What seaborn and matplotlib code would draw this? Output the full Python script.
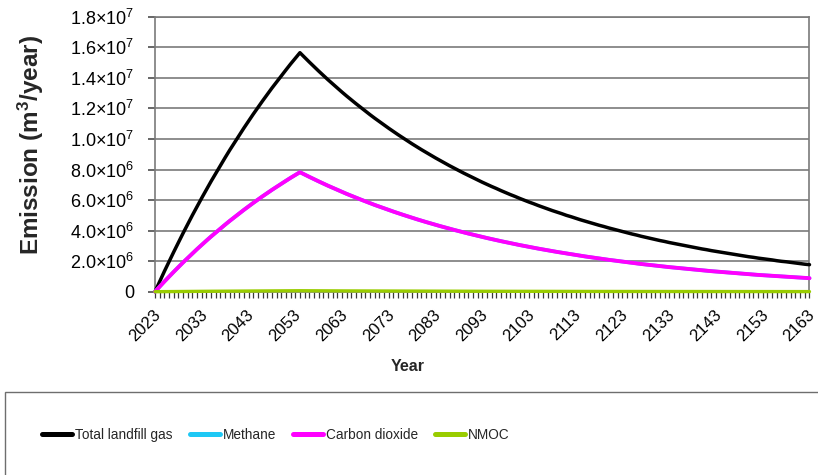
import matplotlib
matplotlib.use("Agg")
import matplotlib.pyplot as plt
import matplotlib.transforms as mtransforms
from matplotlib.lines import Line2D
from matplotlib.patches import Rectangle
from matplotlib.ticker import MultipleLocator
import numpy as np
import pandas as pd
import seaborn as sns

# ---------------------------------------------------------------- data
start_year = 2023
end_year = 2163

# Total landfill gas, million m3/year (2023 ... 2163)
total_gas_mm3 = [
    0.00, 0.67, 1.33, 1.97, 2.60, 3.22, 3.83, 4.42, 5.01, 5.58,
    6.14, 6.69, 7.23, 7.75, 8.27, 8.78, 9.28, 9.76, 10.24, 10.71,
    11.17, 11.62, 12.06, 12.49, 12.91, 13.33, 13.73, 14.13, 14.52, 14.91,
    15.28, 15.65,
    15.34, 15.04, 14.74, 14.45, 14.16, 13.88, 13.61, 13.34, 13.07,
    12.81, 12.56, 12.31, 12.07, 11.83, 11.59, 11.36, 11.14, 10.92, 10.70,
    10.49, 10.28, 10.08, 9.88, 9.68, 9.49, 9.30, 9.12, 8.94, 8.76,
    8.59, 8.42, 8.25, 8.09, 7.93, 7.77, 7.62, 7.47, 7.32, 7.17,
    7.03, 6.89, 6.76, 6.62, 6.49, 6.36, 6.24, 6.11, 5.99, 5.87,
    5.76, 5.64, 5.53, 5.42, 5.31, 5.21, 5.11, 5.00, 4.91, 4.81,
    4.71, 4.62, 4.53, 4.44, 4.35, 4.27, 4.18, 4.10, 4.02, 3.94,
    3.86, 3.78, 3.71, 3.63, 3.56, 3.49, 3.42, 3.35, 3.29, 3.22,
    3.16, 3.10, 3.04, 2.98, 2.92, 2.86, 2.80, 2.75, 2.69, 2.64,
    2.59, 2.54, 2.49, 2.44, 2.39, 2.34, 2.29, 2.25, 2.20, 2.16,
    2.12, 2.08, 2.03, 1.99, 1.96, 1.92, 1.88, 1.84, 1.80, 1.77,
]

# Carbon dioxide, million m3/year
carbon_dioxide_mm3 = [
    0.000, 0.335, 0.665, 0.985, 1.300, 1.610, 1.915, 2.210, 2.505, 2.790,
    3.070, 3.345, 3.615, 3.875, 4.135, 4.390, 4.640, 4.880, 5.120, 5.355,
    5.585, 5.810, 6.030, 6.245, 6.455, 6.665, 6.865, 7.065, 7.260, 7.455,
    7.640, 7.825,
    7.670, 7.520, 7.370, 7.225, 7.080, 6.940, 6.805, 6.670, 6.535,
    6.405, 6.280, 6.155, 6.035, 5.915, 5.795, 5.680, 5.570, 5.460, 5.350,
    5.245, 5.140, 5.040, 4.940, 4.840, 4.745, 4.650, 4.560, 4.470, 4.380,
    4.295, 4.210, 4.125, 4.045, 3.965, 3.885, 3.810, 3.735, 3.660, 3.585,
    3.515, 3.445, 3.380, 3.310, 3.245, 3.180, 3.120, 3.055, 2.995, 2.935,
    2.880, 2.820, 2.765, 2.710, 2.655, 2.605, 2.555, 2.500, 2.455, 2.405,
    2.355, 2.310, 2.265, 2.220, 2.175, 2.135, 2.090, 2.050, 2.010, 1.970,
    1.930, 1.890, 1.855, 1.815, 1.780, 1.745, 1.710, 1.675, 1.645, 1.610,
    1.580, 1.550, 1.520, 1.490, 1.460, 1.430, 1.400, 1.375, 1.345, 1.320,
    1.295, 1.270, 1.245, 1.220, 1.195, 1.170, 1.145, 1.125, 1.100, 1.080,
    1.060, 1.040, 1.015, 0.995, 0.980, 0.960, 0.940, 0.920, 0.900, 0.885,
]

# Methane makes up the same volume share as CO2, so the two series coincide
methane_mm3 = list(carbon_dioxide_mm3)

# NMOC, thousand m3/year
nmoc_km3 = [
    0, 3, 5, 8, 10, 13, 15, 18, 20, 22, 25, 27, 29, 31, 33, 35, 37, 39, 41, 43,
    45, 46, 48, 50, 52, 53, 55, 57, 58, 60, 61, 63,
    61, 60, 59, 58, 57, 56, 54, 53, 52,
    51, 50, 49, 48, 47, 46, 45, 45, 44, 43,
    42, 41, 40, 40, 39, 38, 37, 36, 36, 35,
    34, 34, 33, 32, 32, 31, 30, 30, 29, 29,
    28, 28, 27, 26, 26, 25, 25, 24, 24, 23,
    23, 23, 22, 22, 21, 21, 20, 20, 20, 19,
    19, 18, 18, 18, 17, 17, 16, 16, 16, 16,
    15, 15, 15, 14, 14, 14, 14, 13, 13, 13,
    13, 12, 12, 12, 12, 11, 11, 11, 11, 11,
    10, 10, 10, 10, 10, 9, 9, 9, 9, 9,
    8, 8, 8, 8, 8, 8, 8, 7, 7, 7,
]

series_names = ["Total landfill gas", "Methane", "Carbon dioxide", "NMOC"]
series_colors = ["#000000", "#1ec8f5", "#ff00ff", "#99cc00"]

y_tick_values = [0, 2.0e6, 4.0e6, 6.0e6, 8.0e6, 1.0e7, 1.2e7, 1.4e7, 1.6e7, 1.8e7]
y_tick_labels = ["0",
                 "2.0×10$^{6}$", "4.0×10$^{6}$", "6.0×10$^{6}$", "8.0×10$^{6}$",
                 "1.0×10$^{7}$", "1.2×10$^{7}$", "1.4×10$^{7}$", "1.6×10$^{7}$",
                 "1.8×10$^{7}$"]

# ---------------------------------------------------------------- table
years = np.arange(start_year, end_year + 1)
values = {
    "Total landfill gas": np.array(total_gas_mm3) * 1e6,
    "Methane": np.array(methane_mm3) * 1e6,
    "Carbon dioxide": np.array(carbon_dioxide_mm3) * 1e6,
    "NMOC": np.array(nmoc_km3) * 1e3,
}
df = pd.concat(
    [pd.DataFrame({"Year": years, "Emission": v, "Gas": k}) for k, v in values.items()],
    ignore_index=True,
)

# ---------------------------------------------------------------- style
sns.set_theme(style="white")
base_font = "Liberation Sans"
plt.rcParams["font.family"] = [base_font, "DejaVu Sans"]
plt.rcParams["mathtext.fontset"] = "custom"
plt.rcParams["mathtext.rm"] = base_font
plt.rcParams["mathtext.it"] = base_font + ":italic"
plt.rcParams["mathtext.bf"] = base_font + ":bold"

fig = plt.figure(figsize=(8.18, 4.75), dpi=100)
ax = fig.add_axes([0.1895, 0.3859, 0.8001, 0.5787])

line_widths = {"Total landfill gas": 2.5, "Methane": 2.6, "Carbon dioxide": 2.8, "NMOC": 2.4}
for name, color in zip(series_names, series_colors):
    sns.lineplot(data=df[df["Gas"] == name], x="Year", y="Emission",
                 color=color, linewidth=line_widths[name], ax=ax,
                 legend=False, clip_on=False, zorder=3)

ax.set_xlim(start_year, end_year)
ax.set_ylim(0, 1.8e7)

# horizontal gridlines and frame
ax.yaxis.grid(True, color="#7a7a7a", linewidth=1.2)
ax.xaxis.grid(False)
ax.set_axisbelow(True)
for side in ["left", "right", "top", "bottom"]:
    ax.spines[side].set_color("#7a7a7a")
    ax.spines[side].set_linewidth(1.2)
    ax.spines[side].set_visible(True)

# y ticks
ax.set_yticks(y_tick_values)
ax.set_yticklabels(y_tick_labels)
ax.tick_params(axis="y", which="major", direction="out", length=5, width=1.2,
               color="#4d4d4d", left=True, labelsize=13, pad=10, labelcolor="black")

# x ticks: a label every 10 years, a small tick every year
x_ticks = list(range(start_year, end_year + 1, 10))
ax.set_xticks(x_ticks)
ax.set_xticklabels([str(t) for t in x_ticks], rotation=45, ha="right", va="center",
                   rotation_mode="anchor", fontsize=12)
ax.xaxis.set_minor_locator(MultipleLocator(1))
ax.tick_params(axis="x", which="both", direction="out", length=4, width=0.9,
               color="#3a3a3a", bottom=True, pad=11, labelcolor="black")
shift = mtransforms.ScaledTranslation(3 / 100, 0, fig.dpi_scale_trans)
for lbl in ax.get_xticklabels():
    lbl.set_transform(lbl.get_transform() + shift)

ax.set_xlabel("Year", fontsize=11.5, fontweight="bold")
ax.xaxis.set_label_coords(0.3866, -0.245)
ax.set_ylabel("Emission (m$^{\\mathbf{3}}$/year)", fontsize=17.5, fontweight="bold")
ax.yaxis.set_label_coords(-0.167, 0.535)

# legend panel below the plot
fig.patches.append(Rectangle((5 / 818, -0.2), 1.2, 0.2 + (1 - 392 / 475),
                             transform=fig.transFigure, fill=False,
                             edgecolor="#6e6e6e", linewidth=1.0, zorder=0))
handles = [Line2D([], [], color=c, linewidth=3.6, solid_capstyle="round")
           for c in series_colors]
leg_fs = 9.8
px = leg_fs * 100 / 72
fig.legend(handles, series_names, loc="center left",
           bbox_to_anchor=(42 / 818, 1 - 435 / 475), ncol=4, frameon=False,
           borderpad=0, borderaxespad=0, handlelength=30 / px,
           handletextpad=3 / px, columnspacing=17 / px,
           prop={"family": base_font, "size": leg_fs})

fig.savefig("out.png", dpi=100)
